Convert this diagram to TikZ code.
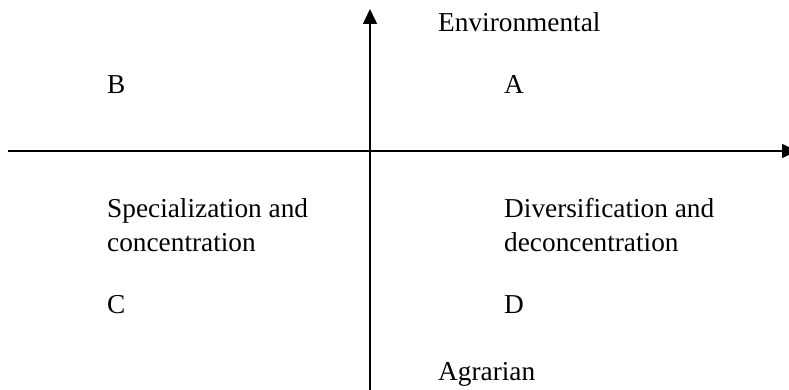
\documentclass[tikz,border=0pt]{standalone}
\usepackage{fontspec}
\setmainfont{Liberation Serif}
\usetikzlibrary{arrows.meta}
\begin{document}
\begin{tikzpicture}[x=1pt,y=-1pt,
  lbl/.style={anchor=base west,inner sep=0pt,font=\fontsize{27.3}{34.5}\selectfont,align=left},
  axis/.style={line width=1.6pt,-{Triangle[length=15pt,width=14pt]}}]
\useasboundingbox (0,0) rectangle (789,390);
\coordinate (vb) at (370,392);
\coordinate (vt) at (370,9);
\coordinate (hl) at (8,151);
\coordinate (hr) at (797,151);
\draw[axis] (vb) -- (vt);
\draw[axis] (hl) -- (hr);
\node[lbl] (env) at (438,32) {Environmental};
\node[lbl] (b) at (107,94) {B};
\node[lbl] (a) at (504,94) {A};
\node[lbl] (spec) at (107,251.5) {Specialization and\\concentration};
\node[lbl] (div) at (504,251.5) {Diversification and\\deconcentration};
\node[lbl] (c) at (107,313) {C};
\node[lbl] (d) at (504,313) {D};
\node[lbl] (agr) at (438,380) {Agrarian};
\end{tikzpicture}
\end{document}
